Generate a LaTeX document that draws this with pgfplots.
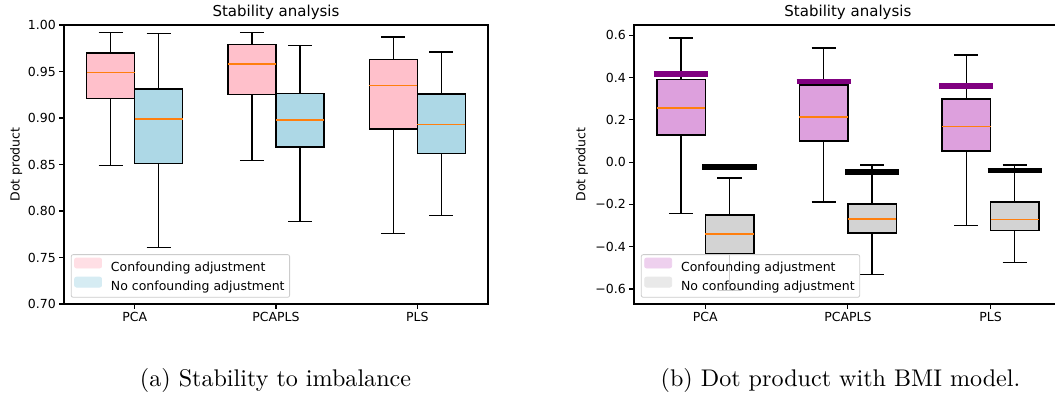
\documentclass[border=0pt]{standalone}
\usepackage{fontspec}
\usepackage{pgfplots}
\pgfplotsset{compat=1.18}
\usepgfplotslibrary{statistics}
\newfontfamily\dv{DejaVu Sans}
\definecolor{mplorange}{RGB}{255,127,14}
\definecolor{cpink}{RGB}{255,192,203}
\definecolor{clblue}{RGB}{173,216,230}
\definecolor{cplum}{RGB}{221,160,221}
\definecolor{clgray}{RGB}{211,211,211}
\definecolor{cpurple}{RGB}{128,0,128}
\definecolor{legframe}{RGB}{204,204,204}

\newcommand{\mybox}[7]{%
\addplot[forget plot, draw=black, line width=1.5pt,
  boxplot/draw direction=y,
  boxplot prepared={draw position=#1, lower whisker=#2, lower quartile=#3,
    median=#4, upper quartile=#5, upper whisker=#6,
    box extend=0.34, whisker extend=0.17},
  boxplot/every box/.style={draw=black, fill=#7, line width=1.5pt},
  boxplot/every whisker/.style={draw=black, line width=1.4pt},
  boxplot/every median/.style={draw=mplorange, line width=1.5pt}]
  coordinates {};}

\pgfplotsset{
  mystyle/.style={
    scale only axis, height=279pt,
    xmin=0.5, xmax=3.5, xtick={1,2,3}, xticklabels={PCA,PCAPLS,PLS},
    tick align=outside, tick pos=left, major tick length=4.7pt,
    tick style={black, line width=1.1pt},
    axis line style={line width=1.1pt},
    ticklabel style={font=\dv\fontsize{12.5}{15}\selectfont},
    title style={font=\dv\fontsize{15}{18}\selectfont, at={(0.5,1)}, anchor=base, yshift=2pt, inner sep=0pt},
    ylabel={Dot product},
    ylabel style={font=\dv\fontsize{12.5}{15}\selectfont, anchor=center},
    title={Stability analysis},
    legend cell align=left,
    legend style={at={(0.016,0.0225)}, anchor=south west,
      font=\dv\fontsize{12.5}{15}\selectfont,
      draw=legframe, fill=white, fill opacity=0.8, text opacity=1,
      rounded corners=2pt, row sep=1.5pt, inner sep=3pt, line width=0.8pt,
      /tikz/every odd column/.append style={column sep=7pt}},
  }
}

\begin{document}
\begin{tikzpicture}
\clip (0,0) rectangle (1055pt,396pt);
% ---------- left panel ----------
\begin{axis}[mystyle, at={(64pt,92pt)}, anchor=south west, width=424pt,
  ymin=0.70, ymax=1.00,
  ytick={0.70,0.75,0.80,0.85,0.90,0.95,1.00},
  yticklabels={0.70,0.75,0.80,0.85,0.90,0.95,1.00},
  ylabel style={at={(axis description cs:-0.113,0.5)}}]
\mybox{0.83}{0.849}{0.921}{0.949}{0.970}{0.992}{cpink}
\mybox{1.17}{0.7605}{0.851}{0.8987}{0.931}{0.9907}{clblue}
\mybox{1.83}{0.854}{0.9255}{0.958}{0.979}{0.992}{cpink}
\mybox{2.17}{0.789}{0.869}{0.898}{0.9266}{0.978}{clblue}
\mybox{2.83}{0.776}{0.888}{0.935}{0.963}{0.987}{cpink}
\mybox{3.17}{0.795}{0.862}{0.893}{0.926}{0.971}{clblue}
\addlegendimage{legend image code/.code={\fill[cpink!50, fill opacity=1] (0pt,-0.3pt) rectangle (27pt,9.7pt);}}
\addlegendentry{Confounding adjustment}
\addlegendimage{legend image code/.code={\fill[clblue!50, fill opacity=1] (0pt,-0.3pt) rectangle (27pt,9.7pt);}}
\addlegendentry{No confounding adjustment}
\end{axis}
% ---------- right panel ----------
\begin{axis}[mystyle, at={(634pt,92pt)}, anchor=south west, width=427.8pt,
  ymin=-0.671, ymax=0.649,
  ytick={-0.6,-0.4,-0.2,0,0.2,0.4,0.6},
  yticklabels={−0.6,−0.4,−0.2,0.0,0.2,0.4,0.6},
  ylabel style={at={(axis description cs:-0.1215,0.5)}}]
\mybox{0.83}{-0.243}{0.129}{0.257}{0.392}{0.587}{cplum}
\mybox{1.17}{-0.608}{-0.433}{-0.340}{-0.249}{-0.074}{clgray}
\mybox{1.83}{-0.189}{0.099}{0.214}{0.364}{0.540}{cplum}
\mybox{2.17}{-0.532}{-0.335}{-0.268}{-0.197}{-0.013}{clgray}
\mybox{2.83}{-0.301}{0.054}{0.169}{0.298}{0.507}{cplum}
\mybox{3.17}{-0.476}{-0.323}{-0.272}{-0.189}{-0.014}{clgray}
\addplot[forget plot, cpurple, line width=5.5pt] coordinates {(0.64,0.417) (1.02,0.417)};
\addplot[forget plot, black, line width=5.5pt] coordinates {(0.98,-0.024) (1.36,-0.024)};
\addplot[forget plot, cpurple, line width=5.5pt] coordinates {(1.64,0.381) (2.02,0.381)};
\addplot[forget plot, black, line width=5.5pt] coordinates {(1.98,-0.046) (2.36,-0.046)};
\addplot[forget plot, cpurple, line width=5.5pt] coordinates {(2.64,0.361) (3.02,0.361)};
\addplot[forget plot, black, line width=5.5pt] coordinates {(2.98,-0.039) (3.36,-0.039)};
\addlegendimage{legend image code/.code={\fill[cplum!50, fill opacity=1] (0pt,-0.3pt) rectangle (27pt,9.7pt);}}
\addlegendentry{Confounding adjustment}
\addlegendimage{legend image code/.code={\fill[clgray!50, fill opacity=1] (0pt,-0.3pt) rectangle (27pt,9.7pt);}}
\addlegendentry{No confounding adjustment}
\end{axis}
% ---------- captions ----------
\node[anchor=base, scale=2.41, inner sep=0pt] at (275.5pt,9pt) {(a) Stability to imbalance};
\node[anchor=base, scale=2.41, inner sep=0pt] at (840.5pt,9pt) {(b) Dot product with BMI model.};
\end{tikzpicture}
\end{document}
